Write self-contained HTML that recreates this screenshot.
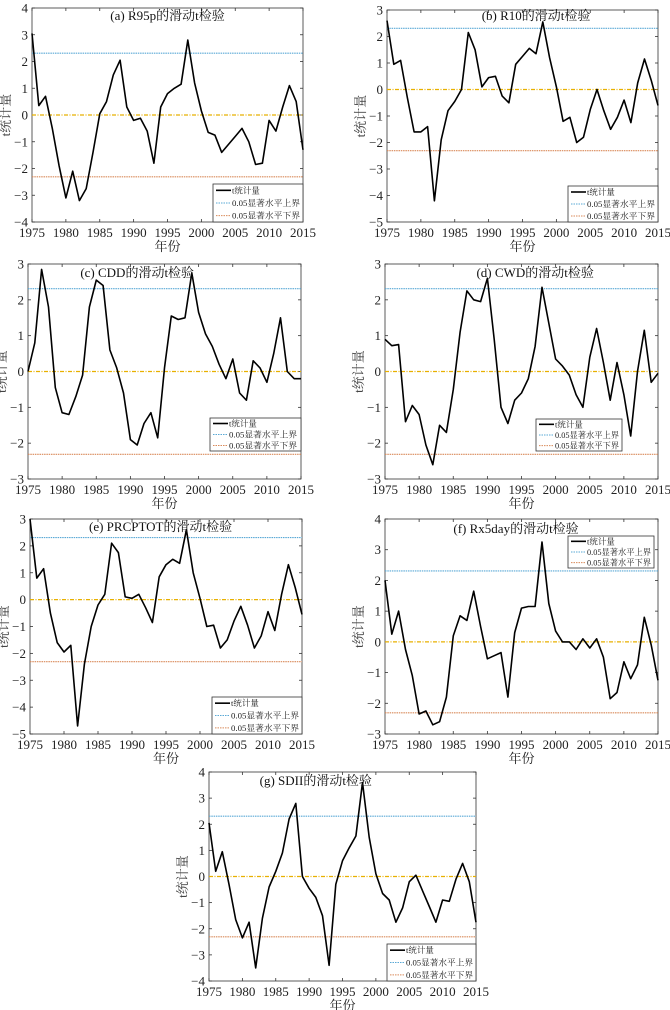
<!DOCTYPE html>
<html><head><meta charset="utf-8"><style>
html,body{margin:0;padding:0;background:#fff;}
svg{display:block;font-family:"Liberation Serif","Noto Serif CJK SC",serif;}
</style></head><body>
<svg id="root" width="670" height="1010" viewBox="0 0 670 1010"></svg>
<script>
const years = [];
for (let y = 1975; y <= 2015; y++) years.push(y);
const xTicks = [1975,1980,1985,1990,1995,2000,2005,2010,2015];
const threshold = 2.31;
const seriesA = [3.05,0.35,0.7,-0.5,-1.9,-3.1,-2.1,-3.2,-2.75,-1.4,0.05,0.5,1.5,2.05,0.3,-0.2,-0.12,-0.6,-1.8,0.3,0.8,1.0,1.15,2.8,1.2,0.15,-0.65,-0.75,-1.4,-1.1,-0.8,-0.5,-1.0,-1.85,-1.8,-0.2,-0.6,0.3,1.1,0.5,-1.3];
const seriesB = [2.6,0.95,1.1,-0.3,-1.6,-1.6,-1.4,-4.2,-1.9,-0.8,-0.45,0,2.15,1.5,0.1,0.45,0.5,-0.25,-0.5,0.95,1.25,1.55,1.35,2.55,1.2,0.1,-1.2,-1.05,-2.0,-1.8,-0.75,0.0,-0.8,-1.5,-1.05,-0.4,-1.25,0.25,1.15,0.35,-0.6];
const seriesC = [0.0,0.8,2.85,1.8,-0.45,-1.15,-1.2,-0.7,-0.1,1.8,2.55,2.4,0.6,0.1,-0.6,-1.9,-2.05,-1.45,-1.15,-1.85,0.1,1.55,1.45,1.5,2.75,1.65,1.05,0.7,0.2,-0.2,0.35,-0.6,-0.8,0.3,0.1,-0.3,0.5,1.5,0.0,-0.2,-0.2];
const seriesD = [0.9,0.72,0.75,-1.4,-0.95,-1.2,-2.05,-2.6,-1.5,-1.7,-0.5,1.1,2.25,2.0,1.95,2.6,0.9,-1.0,-1.45,-0.8,-0.6,-0.2,0.7,2.35,1.35,0.35,0.15,-0.1,-0.65,-1.0,0.4,1.2,0.25,-0.8,0.25,-0.65,-1.8,0.0,1.15,-0.3,-0.05];
const seriesE = [3.0,0.8,1.15,-0.5,-1.6,-1.95,-1.7,-4.7,-2.4,-1.0,-0.2,0.2,2.1,1.75,0.1,0.05,0.2,-0.3,-0.85,0.85,1.3,1.5,1.35,2.6,1.0,0.05,-1.0,-0.95,-1.8,-1.5,-0.8,-0.25,-0.95,-1.8,-1.35,-0.45,-1.15,0.2,1.3,0.45,-0.55];
const seriesF = [2.0,0.25,1.0,-0.25,-1.1,-2.35,-2.25,-2.7,-2.6,-1.8,0.2,0.85,0.7,1.65,0.5,-0.55,-0.45,-0.35,-1.8,0.3,1.1,1.15,1.15,3.25,1.25,0.35,0,0,-0.25,0.1,-0.2,0.1,-0.5,-1.85,-1.65,-0.65,-1.2,-0.75,0.8,-0.1,-1.25];
const seriesG = [2.05,0.2,0.95,-0.3,-1.65,-2.35,-1.75,-3.5,-1.6,-0.4,0.2,0.9,2.2,2.8,0.0,-0.45,-0.8,-1.5,-3.4,-0.3,0.6,1.1,1.55,3.6,1.5,0.1,-0.65,-0.9,-1.75,-1.2,-0.2,0.05,-0.55,-1.15,-1.75,-0.9,-0.95,-0.1,0.5,-0.2,-1.75];
const titles = ["(a) R95p的滑动t检验","(b) R10的滑动t检验","(c) CDD的滑动t检验","(d) CWD的滑动t检验","(e) PRCPTOT的滑动t检验","(f) Rx5day的滑动t检验","(g) SDII的滑动t检验"];
const legendLabels = ["t统计量","0.05显著水平上界","0.05显著水平下界"];

const panels = [
 {id:'a',data:seriesA,x0:32,x1:303,y0:8,y1:222,ymin:-4,ymax:4,tx:0.5,ty:20,lg:[213,184,303,222]},
 {id:'b',data:seriesB,x0:387,x1:658,y0:10,y1:222,ymin:-5,ymax:3,tx:0.55,ty:20,lg:[568,186,658,222]},
 {id:'c',data:seriesC,x0:28,x1:301,y0:264,y1:479,ymin:-3,ymax:3,tx:0.4,ty:277,lg:[210,418,301,451]},
 {id:'d',data:seriesD,x0:385,x1:658,y0:264,y1:479,ymin:-3,ymax:3,tx:0.55,ty:277,lg:[536,419,622,451]},
 {id:'e',data:seriesE,x0:30,x1:302,y0:519,y1:734,ymin:-5,ymax:3,tx:0.48,ty:531,lg:[212,697,302,734]},
 {id:'f',data:seriesF,x0:385,x1:658,y0:519,y1:734,ymin:-3,ymax:4,tx:0.48,ty:533,lg:[568,536,654,568]},
 {id:'g',data:seriesG,x0:209,x1:476,y0:772,y1:981,ymin:-4,ymax:4,tx:0.4,ty:785,lg:[387,944,476,981]}
];
const NS='http://www.w3.org/2000/svg';
const root=document.getElementById('root');
function mk(tag,attrs,parent){const e=document.createElementNS(NS,tag);for(const k in attrs)e.setAttribute(k,attrs[k]);parent.appendChild(e);return e;}

panels.forEach((p,i)=>{
  const g=mk('g',{},root);
  
  
  const sx=v=>p.x0+(v-1975)/(2015-1975)*(p.x1-p.x0);
  const sy=v=>p.y1-(v-p.ymin)/(p.ymax-p.ymin)*(p.y1-p.y0);
  const frame=mk('rect',{x:p.x0,y:p.y0,width:p.x1-p.x0,height:p.y1-p.y0,fill:'#fff',stroke:'#333','stroke-width':0.8},g);
  
  
  xTicks.forEach(t=>{
    const x=sx(t);
    mk('line',{x1:x,x2:x,y1:p.y1,y2:p.y1-3,stroke:'#333','stroke-width':0.8},g);
    mk('line',{x1:x,x2:x,y1:p.y0,y2:p.y0+3,stroke:'#333','stroke-width':0.8},g);
    const tl=mk('text',{x:x,y:p.y1+15,'font-size':13,'text-anchor':'middle',fill:'#222'},g);
    tl.textContent=t;
    
    
  });
  for(let v=p.ymin;v<=p.ymax;v++){
    const y=sy(v);
    mk('line',{x1:p.x0,x2:p.x0+3,y1:y,y2:y,stroke:'#333','stroke-width':0.8},g);
    mk('line',{x1:p.x1,x2:p.x1-3,y1:y,y2:y,stroke:'#333','stroke-width':0.8},g);
    const tl=mk('text',{x:p.x0-4,y:y+4.5,'font-size':13,'text-anchor':'end',fill:'#222'},g);
    tl.textContent=v<0?'\u2212'+(-v):String(v);
    
    
  }
  const up=mk('line',{x1:p.x0,x2:p.x1,y1:sy(threshold),y2:sy(threshold),stroke:'#5aa9d6','stroke-width':1.1,'stroke-dasharray':'1.5,0.8'},g);
  
  
  const lo=mk('line',{x1:p.x0,x2:p.x1,y1:sy(-threshold),y2:sy(-threshold),stroke:'#d98a5a','stroke-width':1.1,'stroke-dasharray':'1.5,0.8'},g);
  
  
  const z=mk('line',{x1:p.x0,x2:p.x1,y1:sy(0),y2:sy(0),stroke:'#e8b000','stroke-width':1.2,'stroke-dasharray':'4,1.5,1,1.5'},g);
  
  
  const pts=p.data.map((v,k)=>sx(years[k]).toFixed(1)+','+sy(v).toFixed(1)).join(' ');
  const pl=mk('polyline',{points:pts,fill:'none',stroke:'#000','stroke-width':1.6,'stroke-linejoin':'round'},g);
  
  
  const tt=mk('text',{x:p.x0+(p.x1-p.x0)*p.tx,y:p.ty,'font-size':13,'text-anchor':'middle',fill:'#111'},g);
  tt.textContent=titles[i];
  
  
  const xl=mk('text',{x:(p.x0+p.x1)/2,y:p.y1+29,'font-size':13,'text-anchor':'middle',fill:'#222'},g);
  xl.textContent='年份';
  
  
  const yx=p.x0-22, yy=(p.y0+p.y1)/2;
  const yl=mk('text',{x:yx,y:yy,'font-size':13,'text-anchor':'middle',fill:'#444',transform:'rotate(-90 '+yx+' '+yy+')'},g);
  yl.textContent='t统计量';
  
  
  const [lx0,ly0,lx1,ly1]=p.lg;
  const lg=mk('g',{},g);
  
  
  mk('rect',{x:lx0,y:ly0,width:lx1-lx0,height:ly1-ly0,fill:'#fff',stroke:'#333','stroke-width':0.8},lg);
  const rowH=(ly1-ly0)/3;
  const styles=[{s:'#000',w:1.6,d:''},{s:'#5aa9d6',w:1,d:'1.5,1'},{s:'#d98a5a',w:1,d:'1.5,1'}];
  const lw=lx1-lx0;
  legendLabels.forEach((lab,k)=>{
    const cy=ly0+rowH*(k+0.5);
    const ln=mk('line',{x1:lx0+3,x2:lx0+18,y1:cy,y2:cy,stroke:styles[k].s,'stroke-width':styles[k].w},lg);
    if(styles[k].d) ln.setAttribute('stroke-dasharray',styles[k].d);
    const t=mk('text',{x:lx0+19,y:cy+3,'font-size':8.5,fill:'#222'},lg);
    t.textContent=lab;
    if(k>0){t.setAttribute('textLength',Math.min(lw-22,68));t.setAttribute('lengthAdjust','spacingAndGlyphs');}
    
    
  });
});
</script>
</body></html>
